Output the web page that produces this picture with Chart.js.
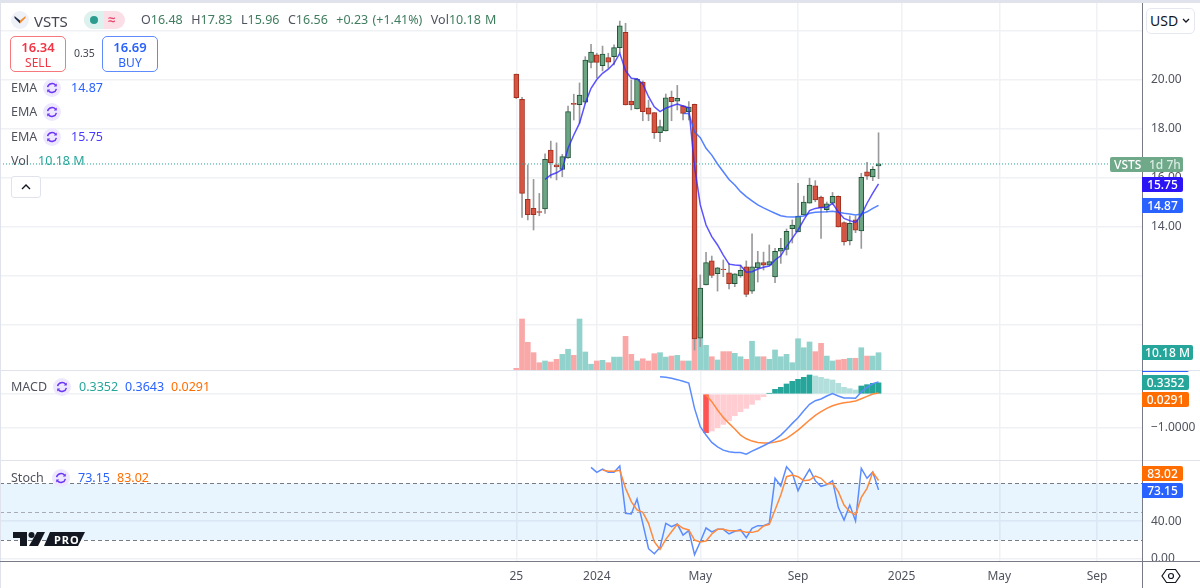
<!DOCTYPE html>
<html>
<head>
<meta charset="utf-8">
<title>VSTS</title>
<script src="https://cdn.jsdelivr.net/npm/chart.js@4"></script>
<style>
  html, body { margin: 0; padding: 0; background: #fff; }
  body { width: 1200px; height: 588px; overflow: hidden; position: relative; font-family: "Noto Sans", sans-serif; color: #50535e; }
  canvas { position: absolute; left: 0; }
  .abs { position: absolute; white-space: nowrap; }
  .sep { position: absolute; left: 0; width: 1200px; background: #e0e3eb; }
  .tag { position: absolute; left: 1142px; height: 15px; line-height: 15px; width: 41px; text-align: center; color: #fff; font-size: 12px; font-weight: 500; border-radius: 0 2px 2px 0; }
  .box { position: absolute; top: 36px; width: 54px; height: 34px; border-radius: 5px; background: #fff; text-align: center; font-size: 12px; line-height: 15px; padding-top: 0; }
  .box b { display: block; font-size: 13px; font-weight: 600; padding-top: 3px; }
  .ind { position: absolute; font-size: 12.5px; line-height: 16px; }
  .ico { position: absolute; width: 18px; height: 18px; }
</style>
</head>
<body>
<canvas id="pricePane" width="1200" height="367" style="top:3px"></canvas>
<canvas id="macdPane" width="1200" height="89" style="top:371px"></canvas>
<canvas id="stochPane" width="1200" height="127" style="top:461px"></canvas>

<div class="sep" style="top:0;height:3px"></div>
<div class="abs" style="left:0;top:0;width:1px;height:588px;background:#e0e3eb"></div>
<div class="sep" style="top:370px;height:1px"></div>
<div class="sep" style="top:460px;height:1px"></div>
<div class="abs" style="left:0;top:561px;width:1200px;height:1px;background:#787b86"></div>
<div class="abs" style="left:1143px;top:562px;width:57px;height:26px;background:#fff"></div>
<div class="abs" style="left:1142px;top:3px;width:1px;height:585px;background:#787b86"></div>

<svg width="0" height="0" style="position:absolute">
  <symbol id="spin" viewBox="0 0 18 18">
    <circle cx="9" cy="9" r="9" fill="#eee8ff"/>
    <path d="M4.6 8.2A4.6 4.6 0 0 1 12.6 6.2M13.4 9.8A4.6 4.6 0 0 1 5.4 11.8" fill="none" stroke="#6a35f5" stroke-width="1.5"/>
    <path d="M13.8 4.6v3h-3zM4.2 13.4v-3h3z" fill="#6a35f5"/>
  </symbol>
</svg>

<!-- header -->
<svg class="abs" style="left:11px;top:11px" width="18" height="18" viewBox="0 0 18 18">
  <circle cx="9" cy="9" r="9" fill="#eef1f8"/>
  <path d="M3.5 7L9 12.5V9.4L3.5 5z" fill="#1f2a44"/>
  <path d="M14.5 7L9 12.5V9.4L14.5 5z" fill="#f28b2d"/>
</svg>
<div class="abs" style="left:34px;top:10px;font-size:15px;line-height:22px;color:#434651">VSTS</div>
<div class="abs" style="left:84px;top:11px;width:41px;height:18px;border-radius:9px;background:#fbdfe7;overflow:hidden">
  <div style="width:20px;height:18px;background:#dcf2ee"></div>
  <div style="position:absolute;left:6px;top:5px;width:8px;height:8px;border-radius:4px;background:#2a9d8f"></div>
  <div style="position:absolute;left:24px;top:-1px;font-size:13px;line-height:18px;color:#e8476a;font-weight:700">≈</div>
</div>
<div class="abs" style="left:141px;top:11px;font-size:12.5px;line-height:18px;color:#3f7d5e;word-spacing:1px">
  <span style="color:#50535e">O</span>16.48&nbsp; <span style="color:#50535e">H</span>17.83&nbsp; <span style="color:#50535e">L</span>15.96&nbsp; <span style="color:#50535e">C</span>16.56&nbsp; +0.23 (+1.41%)&nbsp; <span style="color:#50535e">Vol</span>10.18 M
</div>
<div class="box" style="left:10px;border:1px solid #f7787c;color:#f23645"><b>16.34</b>SELL</div>
<div class="abs" style="left:74px;top:45px;font-size:10.5px;line-height:16px;color:#434651">0.35</div>
<div class="box" style="left:102px;border:1px solid #5f8bff;color:#2962ff"><b>16.69</b>BUY</div>

<div class="ind" style="left:11px;top:80px">EMA</div>
<svg class="ico" style="left:43px;top:79px"><use href="#spin"/></svg>
<div class="ind" style="left:71px;top:80px;color:#2962ff">14.87</div>
<div class="ind" style="left:11px;top:104px">EMA</div>
<svg class="ico" style="left:43px;top:103px"><use href="#spin"/></svg>
<div class="ind" style="left:11px;top:129px">EMA</div>
<svg class="ico" style="left:43px;top:128px"><use href="#spin"/></svg>
<div class="ind" style="left:71px;top:129px;color:#4a3aff">15.75</div>
<div class="ind" style="left:11px;top:153px">Vol</div>
<div class="ind" style="left:38px;top:153px;color:#26a69a">10.18 M</div>
<div class="abs" style="left:11px;top:176px;width:28px;height:20px;border:1px solid #e0e3eb;border-radius:3px;background:#fff">
  <svg width="28" height="20"><path d="M10 12l4-4 4 4" fill="none" stroke="#131722" stroke-width="1.4"/></svg>
</div>

<div class="ind" style="left:11px;top:379px">MACD</div>
<svg class="ico" style="left:53px;top:378px"><use href="#spin"/></svg>
<div class="ind" style="left:79px;top:379px;color:#26a69a">0.3352</div>
<div class="ind" style="left:125px;top:379px;color:#2962ff">0.3643</div>
<div class="ind" style="left:171px;top:379px;color:#ff6d00">0.0291</div>

<div class="ind" style="left:11px;top:470px">Stoch</div>
<svg class="ico" style="left:52px;top:469px"><use href="#spin"/></svg>
<div class="ind" style="left:78px;top:470px;color:#2962ff">73.15</div>
<div class="ind" style="left:117px;top:470px;color:#ff6d00">83.02</div>

<svg class="abs" style="left:13px;top:531px" width="72" height="16" viewBox="0 0 72 16">
  <path d="M0 1H14V15H7V7H0z" fill="#131722"/>
  <circle cx="18.5" cy="4" r="3" fill="#131722"/>
  <path d="M24 1H32L25 15H16z" fill="#131722"/>
  <path d="M37 1H72L65 15H31z" fill="#131722"/>
  <text x="41" y="12.5" font-size="11" font-weight="700" letter-spacing="1" fill="#fff" font-family="Noto Sans">PRO</text>
</svg>

<!-- right side -->
<div class="abs" style="left:1146px;top:8px;width:47px;height:24px;border:1px solid #e6e8f0;border-radius:5px;background:#fff;font-size:14px;line-height:24px;color:#131722;text-indent:3px">USD
  <svg class="abs" style="left:34px;top:8px" width="10" height="8"><path d="M2 2l3 3 3-3" fill="none" stroke="#131722" stroke-width="1.3"/></svg>
</div>
<div class="abs" style="left:1110px;top:157px;width:73px;height:15px;background:#6fa98a;border-radius:2px;font-size:12px;line-height:15px;color:#fff;font-weight:500;text-indent:4px">VSTS<span class="abs" style="left:39px;text-indent:0;color:#d9ece1">1d 7h</span></div>
<div class="tag" style="top:177px;background:#2c15f5">15.75</div>
<div class="tag" style="top:198px;background:#2962ff">14.87</div>
<div class="tag" style="top:345px;width:51px;background:#26a69a">10.18 M</div>
<div class="abs" style="left:1142px;top:371px;width:58px;height:89px;overflow:hidden">
  <div class="tag" style="left:0;top:-14px;width:47px;background:#2962ff">0.3643</div>
  <div class="tag" style="left:0;top:4px;width:47px;background:#26a69a">0.3352</div>
  <div class="tag" style="left:0;top:21px;width:47px;background:#ff6d00">0.0291</div>
</div>
<div class="tag" style="top:466px;background:#ff6d00">83.02</div>
<div class="tag" style="top:483px;background:#2962ff">73.15</div>
<svg class="abs" style="left:1161px;top:566px" width="20" height="20" viewBox="0 0 20 20">
  <path d="M5.5 3.5h9L19 10l-4.500 6.500h-9L1 10z" fill="none" stroke="#131722" stroke-width="1.2"/>
  <circle cx="10" cy="10" r="2.500" fill="none" stroke="#131722" stroke-width="1.2"/>
</svg>

<script>
// weekly candles
var opens = [20.22, 19.19, 15.12, 14.75, 14.62, 14.73, 17.12, 16.52, 16.34, 16.81,
  19.03, 18.97, 19.08, 20.70, 21.00, 20.56, 20.89, 20.93, 21.30, 21.92,
  19.12, 18.80, 19.89, 18.85, 18.65, 17.83, 17.91, 19.27, 19.12, 18.93,
  18.69, 18.99, 9.46, 11.63, 12.61, 12.09, 12.28, 12.12, 11.68, 12.00,
  12.37, 11.38, 12.32, 12.54, 12.44, 11.96, 13.01, 13.08, 13.92, 13.79,
  14.48, 14.96, 15.67, 15.21, 14.70, 14.96, 15.24, 14.17, 13.42, 14.28,
  13.83, 16.24, 16.03, 16.48];
var highs = [20.22, 19.27, 16.52, 15.93, 15.36, 16.97, 17.49, 17.42, 16.95, 18.92,
  19.40, 19.86, 20.93, 21.43, 21.07, 21.36, 21.07, 21.41, 22.38, 22.29,
  19.98, 20.05, 19.94, 19.16, 18.66, 18.35, 19.41, 19.53, 19.76, 18.95,
  19.10, 19.00, 12.04, 12.96, 12.81, 12.35, 12.65, 12.51, 12.09, 12.44,
  12.61, 13.71, 13.00, 12.97, 13.26, 13.12, 13.53, 13.91, 14.28, 15.77,
  15.25, 15.98, 15.88, 15.25, 15.01, 15.40, 15.26, 14.20, 14.44, 14.44,
  16.18, 16.63, 16.45, 17.83];
var lows = [19.22, 14.38, 14.28, 13.87, 14.45, 14.55, 15.99, 15.91, 16.04, 16.79,
  18.35, 18.22, 19.03, 20.47, 20.07, 20.35, 20.46, 20.59, 21.08, 18.96,
  18.76, 18.80, 18.32, 18.32, 17.60, 17.47, 17.90, 18.32, 18.76, 18.35,
  18.35, 8.98, 9.12, 11.63, 11.93, 11.38, 11.97, 11.47, 11.56, 11.94,
  11.15, 11.29, 11.75, 12.24, 12.44, 11.72, 12.51, 12.85, 13.34, 13.79,
  14.48, 14.96, 15.02, 13.53, 14.60, 14.90, 13.99, 13.25, 13.26, 13.76,
  13.12, 15.93, 15.88, 15.96];
var closes = [19.26, 15.36, 14.49, 14.49, 14.59, 16.75, 16.61, 16.44, 16.86, 18.69,
  18.98, 19.37, 20.79, 21.12, 20.70, 21.04, 20.71, 21.30, 22.19, 18.96,
  18.96, 20.02, 18.69, 18.59, 17.83, 18.08, 19.25, 19.10, 19.23, 18.62,
  18.88, 9.43, 11.50, 12.54, 12.02, 12.33, 12.25, 11.68, 12.08, 12.23,
  11.25, 12.37, 12.54, 12.44, 12.58, 13.00, 13.12, 13.82, 14.07, 14.44,
  15.01, 15.70, 15.09, 14.78, 14.94, 15.24, 13.99, 13.38, 14.14, 13.86,
  16.02, 16.06, 16.34, 16.56];
var volumes = [1.0, 30.0, 16.3, 10.2, 4.3, 5.3, 4.7, 6.3, 9.2, 12.2,
  8.6, 30.0, 10.6, 3.4, 5.3, 5.7, 4.3, 7.6, 7.6, 19.8,
  9.2, 5.3, 6.6, 5.3, 9.6, 10.2, 7.6, 8.2, 8.6, 5.3,
  5.3, 53.9, 31.2, 14.5, 7.8, 5.9, 10.8, 10.8, 9.8, 7.8,
  6.3, 16.9, 7.8, 7.8, 6.3, 11.8, 7.8, 9.2, 4.3, 18.4,
  13.1, 16.5, 10.8, 15.7, 8.2, 5.3, 5.9, 6.3, 6.9, 6.9,
  13.1, 8.2, 8.2, 10.18];
var emaFast = [null, null, null, null, null, 15.93, 16.11, 16.20, 16.34, 17.20,
  17.74, 18.22, 19.03, 19.64, 20.00, 20.25, 20.42, 20.66, 21.07, 20.36,
  20.05, 20.02, 19.82, 19.30, 18.89, 18.69, 18.83, 18.92, 19.00, 18.92,
  18.85, 16.45, 14.89, 14.07, 13.60, 13.26, 12.85, 12.48, 12.44, 12.42,
  12.15, 12.17, 12.28, 12.35, 12.40, 12.65, 12.82, 13.19, 13.53, 13.87,
  14.28, 14.66, 14.75, 14.79, 14.79, 14.96, 14.61, 14.34, 14.25, 14.18,
  14.48, 14.96, 15.37, 15.75];
var emaSlow = [null, null, null, null, null, null, null, null, null, null,
  null, null, null, null, null, null, null, null, null, null,
  null, null, null, null, null, null, null, null, null, 18.62,
  18.62, 17.87, 17.63, 17.20, 16.92, 16.56, 16.24, 15.93, 15.70, 15.43,
  15.23, 15.06, 14.89, 14.77, 14.66, 14.55, 14.45, 14.41, 14.40, 14.41,
  14.44, 14.55, 14.59, 14.60, 14.61, 14.63, 14.59, 14.55, 14.52, 14.48,
  14.52, 14.61, 14.75, 14.87];
var macdLine = [null, null, null, null, null, null, null, null, null, null,
  null, null, null, null, null, null, null, null, null, null,
  null, null, null, null, null, 0.52, 0.50, 0.47, 0.43, 0.38,
  0.33, -0.43, -0.98, -1.23, -1.45, -1.58, -1.68, -1.73, -1.75, -1.75,
  -1.80, -1.71, -1.63, -1.55, -1.46, -1.36, -1.23, -1.06, -0.88, -0.71,
  -0.50, -0.31, -0.20, -0.15, -0.06, 0.01, -0.06, -0.12, -0.12, -0.13,
  0.06, 0.20, 0.31, 0.3643];
var macdSignal = [null, null, null, null, null, null, null, null, null, null,
  null, null, null, null, null, null, null, null, null, null,
  null, null, null, null, null, null, null, null, null, null,
  null, null, null, -0.02, -0.23, -0.48, -0.70, -0.88, -1.05, -1.23,
  -1.34, -1.41, -1.45, -1.47, -1.47, -1.44, -1.40, -1.33, -1.21, -1.08,
  -0.93, -0.78, -0.64, -0.53, -0.43, -0.35, -0.30, -0.26, -0.24, -0.21,
  -0.14, -0.07, 0.00, 0.0291];
var macdHist = [null, null, null, null, null, null, null, null, null, null,
  null, null, null, null, null, null, null, null, null, null,
  null, null, null, null, null, null, null, null, null, null,
  null, null, null, -1.16, -1.11, -1.01, -0.91, -0.80, -0.65, -0.53,
  -0.43, -0.31, -0.18, -0.08, 0.02, 0.14, 0.20, 0.30, 0.38, 0.44,
  0.50, 0.57, 0.54, 0.50, 0.45, 0.42, 0.32, 0.20, 0.16, 0.12,
  0.24, 0.28, 0.32, 0.3352];
var stochK = [null, null, null, null, null, null, null, null, null, null,
  null, null, null, 97.0, 91.7, 95.2, 91.7, 91.7, 98.4, 48.3,
  47.6, 63.5, 37.7, 10.9, 5.6, 12.3, 37.7, 34.2, 37.0, 25.4,
  30.0, 4.6, 18.3, 32.8, 28.6, 31.4, 31.4, 26.5, 29.3, 31.0,
  22.6, 32.5, 35.3, 35.3, 37.7, 85.4, 77.2, 97.7, 90.7, 72.3,
  84.7, 94.9, 82.9, 76.9, 78.7, 82.9, 54.7, 41.3, 57.1, 40.2,
  95.9, 85.4, 92.1, 73.15];
var stochD = [null, null, null, null, null, null, null, null, null, null,
  null, null, null, null, null, 94.2, 92.8, 92.8, 93.8, 74.8,
  60.7, 51.9, 49.4, 37.7, 18.3, 10.2, 20.8, 28.9, 36.7, 32.5,
  30.7, 20.1, 18.0, 19.0, 26.5, 31.4, 31.4, 30.0, 30.0, 30.0,
  28.2, 28.2, 29.6, 34.9, 36.7, 51.9, 67.7, 87.1, 88.9, 87.1,
  82.9, 83.6, 87.8, 85.4, 79.4, 80.0, 71.3, 57.1, 50.1, 46.6,
  65.3, 74.8, 91.7, 83.02];

// x axis runs in weeks from the first candle, with empty space both sides
var xMin = -89.79;
var xMax = 108.82;
var xTickWeeks = [0, 14, 32, 49, 67, 84, 101];
var xTickLabels = ["25", "2024", "May", "Sep", "2025", "May", "Sep"];

var priceTicks = [22, 20, 18, 16, 14, 12, 10];
var priceLabelled = [20, 18, 16, 14];
var macdTicks = [0, -1];
var macdLabelled = [-1];
var stochTicks = [40, 0];

var GRID = "#f0f1f4";
var TEXT = "#50535e";
var FONT = { family: "Noto Sans", size: 12 };

function xy(values) {
  return values.map(function (v, i) { return { x: i, y: v }; });
}

function lineSet(values, color, axis, order) {
  return { type: "line", data: xy(values), borderColor: color, borderWidth: 1.5, pointRadius: 0, tension: 0, yAxisID: axis, order: order };
}

function isUp(i) {
  return closes[i] >= opens[i];
}

function fixedTicks(list) {
  return function (scale) {
    scale.ticks = list.map(function (v) { return { value: v }; });
  };
}

// the panes must line up to the pixel, so no automatic padding from the labels
function noPadding(scale) {
  scale.paddingTop = 0;
  scale.paddingBottom = 0;
  scale.paddingLeft = 0;
  scale.paddingRight = 0;
}

function xScale(showLabels) {
  return {
    type: "linear",
    min: xMin,
    max: xMax,
    offset: false,
    afterBuildTicks: fixedTicks(xTickWeeks),
    afterFit: function (scale) {
      noPadding(scale);
      scale.height = showLabels ? 27 : 0;
    },
    border: { display: false },
    grid: { color: GRID, lineWidth: 1.5, drawTicks: false, offset: false },
    ticks: {
      display: showLabels,
      autoSkip: false,
      maxRotation: 0,
      padding: 8,
      color: TEXT,
      font: FONT,
      callback: function (v) { return xTickLabels[xTickWeeks.indexOf(v)]; }
    }
  };
}

function yScale(min, max, tickList, labelled, digits) {
  return {
    position: "right",
    min: min,
    max: max,
    afterBuildTicks: fixedTicks(tickList),
    afterFit: function (scale) {
      noPadding(scale);
      scale.width = 58;
    },
    border: { display: false },
    grid: { color: GRID, lineWidth: 1.5, drawTicks: false },
    ticks: {
      autoSkip: false,
      padding: 9,
      color: TEXT,
      font: FONT,
      callback: function (v) {
        if (labelled.indexOf(v) < 0) return "";
        return v.toFixed(digits).replace("-", "\u2212");
      }
    }
  };
}

function createPane(id, datasets, scales, plugins) {
  return new Chart(id, {
    type: "bar",
    data: { datasets: datasets },
    options: {
      responsive: false,
      animation: false,
      layout: { autoPadding: false, padding: 0 },
      plugins: { legend: { display: false }, tooltip: { enabled: false } },
      scales: scales
    },
    plugins: plugins || []
  });
}

// dotted line at the last close
var lastPriceLine = {
  id: "lastPriceLine",
  afterDatasetsDraw: function (chart) {
    var y = chart.scales.y.getPixelForValue(closes[closes.length - 1]);
    var ctx = chart.ctx;
    ctx.save();
    ctx.strokeStyle = "#26a69a";
    ctx.setLineDash([1, 2]);
    ctx.beginPath();
    ctx.moveTo(chart.chartArea.left, y);
    ctx.lineTo(chart.chartArea.right, y);
    ctx.stroke();
    ctx.restore();
  }
};

// stochastic band and its three dashed levels
var stochBand = {
  id: "stochBand",
  beforeDatasetsDraw: function (chart) {
    var s = chart.scales.y;
    var a = chart.chartArea;
    var ctx = chart.ctx;
    ctx.save();
    ctx.fillStyle = "rgba(33,150,243,0.1)";
    ctx.fillRect(a.left, s.getPixelForValue(80), a.right - a.left, s.getPixelForValue(20) - s.getPixelForValue(80));
    ctx.setLineDash([4, 3]);
    [[80, "#787b86"], [50, "#a8abb4"], [20, "#787b86"]].forEach(function (lvl) {
      var y = Math.round(s.getPixelForValue(lvl[0])) + 0.5;
      ctx.strokeStyle = lvl[1];
      ctx.beginPath();
      ctx.moveTo(a.left, y);
      ctx.lineTo(a.right, y);
      ctx.stroke();
    });
    ctx.restore();
  }
};

createPane("pricePane", [
  lineSet(emaFast, "rgba(50,40,255,0.8)", "y", 1),
  lineSet(emaSlow, "rgba(41,98,255,0.8)", "y", 1),
  {
    data: opens.map(function (o, i) { return { x: i, y: [o, closes[i]] }; }),
    backgroundColor: function (c) { return isUp(c.dataIndex) ? "#6ba583" : "#d75442"; },
    borderColor: function (c) { return isUp(c.dataIndex) ? "#225437" : "#a0301f"; },
    borderWidth: 1,
    borderSkipped: false,
    barThickness: 5,
    grouped: false,
    yAxisID: "y",
    order: 2
  },
  {
    data: lows.map(function (l, i) { return { x: i, y: [l, highs[i]] }; }),
    backgroundColor: "#9a9a9d",
    barThickness: 1,
    grouped: false,
    yAxisID: "y",
    order: 3
  },
  {
    data: xy(volumes),
    backgroundColor: function (c) { return isUp(c.dataIndex) ? "#92d2cc" : "#f9a7a7"; },
    barThickness: 5,
    grouped: false,
    yAxisID: "yVol",
    order: 4
  }
], {
  x: xScale(false),
  y: yScale(8.167, 23.116, priceTicks, priceLabelled, 2),
  yVol: { display: false, min: 0, max: 215.9 }
}, [lastPriceLine]);

createPane("macdPane", [
  lineSet(macdLine, "#5b8cff", "y", 1),
  lineSet(macdSignal, "#ff8a3d", "y", 1),
  {
    data: xy(macdHist),
    backgroundColor: function (c) {
      var v = macdHist[c.dataIndex];
      var prev = macdHist[c.dataIndex - 1] || 0;
      if (v < 0) return v < prev ? "#ff5252" : "#ffcdd2";
      return v > prev ? "#26a69a" : "#b2dfdb";
    },
    barThickness: 5,
    grouped: false,
    yAxisID: "y",
    order: 2
  }
], {
  x: xScale(false),
  y: yScale(-1.976, 0.689, macdTicks, macdLabelled, 4)
});

createPane("stochPane", [
  lineSet(stochK, "#5b8cff", "y", 2),
  lineSet(stochD, "#ff8a3d", "y", 1)
], {
  x: xScale(true),
  y: yScale(-2.1, 103.7, stochTicks, stochTicks, 2)
}, [stochBand]);
</script>
</body>
</html>
